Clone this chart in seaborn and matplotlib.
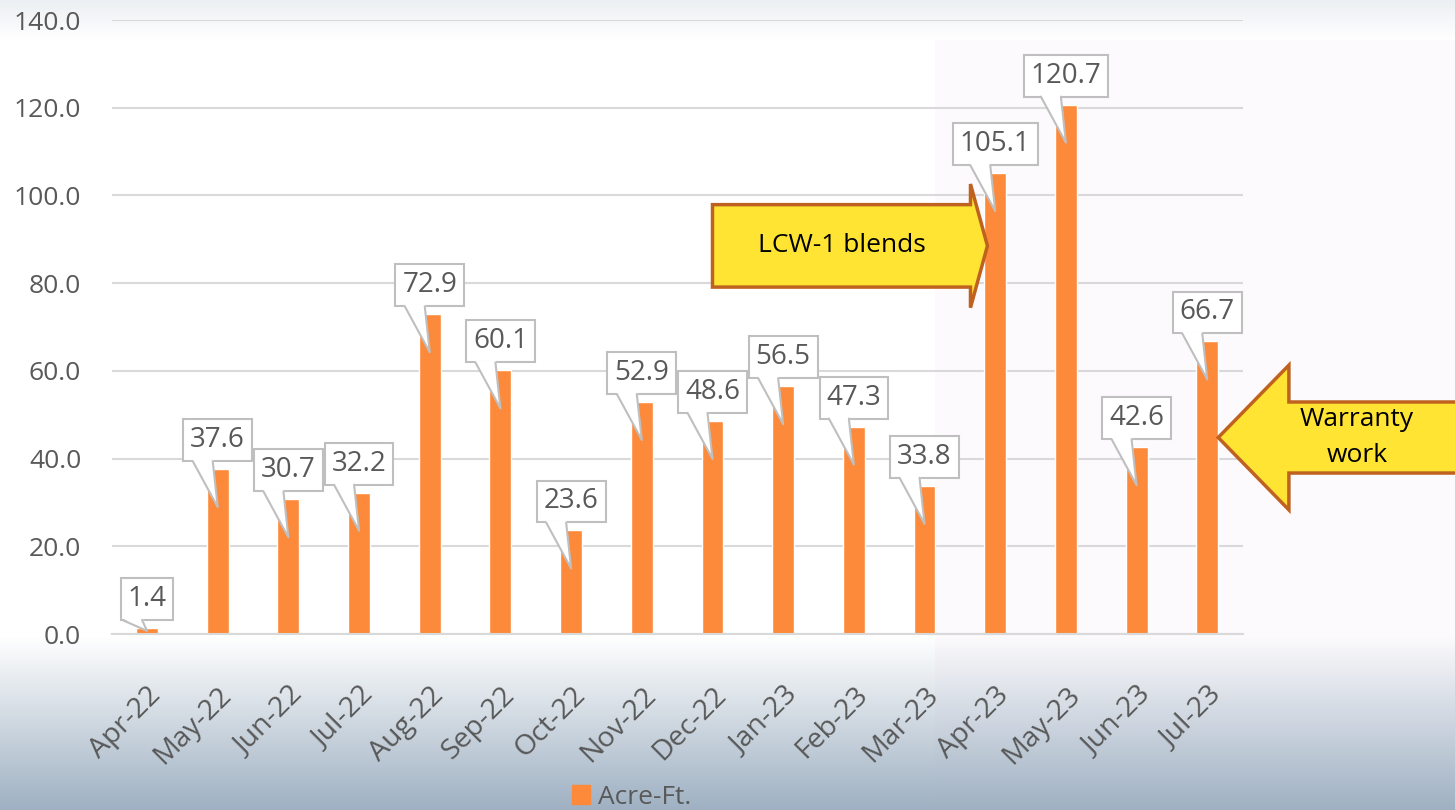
import numpy as np
import pandas as pd
import matplotlib
matplotlib.use('Agg')
import matplotlib.pyplot as plt
import seaborn as sns
from matplotlib import transforms
from matplotlib.patches import FancyArrow, Polygon, Patch
from matplotlib.lines import Line2D
from matplotlib.ticker import StrMethodFormatter

months = ['Apr-22', 'May-22', 'Jun-22', 'Jul-22', 'Aug-22', 'Sep-22', 'Oct-22', 'Nov-22',
          'Dec-22', 'Jan-23', 'Feb-23', 'Mar-23', 'Apr-23', 'May-23', 'Jun-23', 'Jul-23']
acre_ft = [1.4, 37.6, 30.7, 32.2, 72.9, 60.1, 23.6, 52.9,
           48.6, 56.5, 47.3, 33.8, 105.1, 120.7, 42.6, 66.7]
series_name = 'Acre-Ft.'

BAR = '#fd8a3a'
GREY_TXT = '#595959'
GRID = '#d9d9d9'
ARROW_FC = '#ffe433'
ARROW_EC = '#c0621f'

sns.set_theme(style='white')
plt.rcParams['font.family'] = ['Open Sans', 'DejaVu Sans']

W, H = 1455, 810
fig = plt.figure(figsize=(W / 100, H / 100), dpi=100)

# slide-style background: light top band, faint tinted panel, blue-grey fade at the bottom
bg = np.ones((H, W, 3))
bg[40:, 935:, :] = np.array([252, 250, 252]) / 255
rows = np.arange(H)
t_top = np.clip(1 - rows / 40, 0, 1)[:, None, None]
t_bot = np.clip((rows - 636) / (H - 636), 0, 1)[:, None, None]
bg = bg * (1 - t_top) + np.array([236, 239, 243]) / 255 * t_top
bg = bg * (1 - t_bot) + np.array([158, 176, 194]) / 255 * t_bot
bg_ax = fig.add_axes([0, 0, 1, 1], zorder=-10)
bg_ax.imshow(bg, aspect='auto')
bg_ax.axis('off')

ax_box = [111.7 / W, 1 - 634 / H, (1242.6 - 111.7) / W, (634 - 20) / H]
ax = fig.add_axes(ax_box)
ax.set_facecolor('none')

df = pd.DataFrame({'Month': months, series_name: acre_ft})
sns.barplot(data=df, x='Month', y=series_name, color=BAR, saturation=1,
            width=0.31, ax=ax, zorder=2)

ax.set_xlim(-0.5, len(months) - 0.5)
ax.set_ylim(0, 140)
ax.set_yticks(np.arange(0, 141, 20))
ax.yaxis.set_major_formatter(StrMethodFormatter('{x:.1f}'))
ax.set_xlabel('')
ax.set_ylabel('')
ax.yaxis.grid(True, color=GRID, lw=1.5)
ax.set_axisbelow(True)
for s in ['top', 'right', 'left']:
    ax.spines[s].set_visible(False)
ax.spines['bottom'].set_color(GRID)
ax.spines['bottom'].set_linewidth(1.5)
ax.tick_params(axis='y', length=0, labelsize=19, labelcolor=GREY_TXT, pad=22)
ax.tick_params(axis='x', length=0, labelsize=20.5, labelcolor=GREY_TXT, pad=34)
plt.setp(ax.get_xticklabels(), rotation=45, ha='right', rotation_mode='anchor')

# callout data labels
px_per_unit = (634 - 20) / 140
for i, v in enumerate(acre_ft):
    drop = min(38, v * px_per_unit * 0.5)
    ax.annotate(f'{v:.1f}', xy=(i, v), xytext=(0, 15), textcoords='offset pixels',
                ha='center', va='bottom', fontsize=20, color=GREY_TXT, zorder=5,
                bbox=dict(boxstyle='square,pad=0.25', fc='white', ec='#bfbfbf', lw=1.5))
    tr = transforms.Affine2D() + transforms.ScaledTranslation(i, v, ax.transData)
    ax.add_patch(Polygon([(-25.5, 10), (-4.5, 10), (0, -drop)], closed=True,
                         fc='white', ec='none', transform=tr, zorder=6))
    ax.add_line(Line2D([-25, 0, -5], [8, -drop, 8], color='#bfbfbf', lw=1.5,
                       transform=tr, zorder=6))

# annotation arrows
ax.add_patch(FancyArrow(8.0, 88.5, 3.89, 0, width=18.8, head_width=28.2, head_length=0.24,
                        length_includes_head=True, fc=ARROW_FC, ec=ARROW_EC, lw=2.5, zorder=3))
ax.text(9.83, 88.5, 'LCW-1 blends', ha='center', va='center', fontsize=19, color='black', zorder=4)

ax.add_patch(FancyArrow(18.7, 44.8, -(18.7 - 15.155), 0, width=16.2, head_width=33, head_length=1.0,
                        length_includes_head=True, fc=ARROW_FC, ec=ARROW_EC, lw=2.5,
                        zorder=3, clip_on=False))
ax.text(17.12, 44.8, 'Warranty\nwork', ha='center', va='center', fontsize=19, color='black',
        linespacing=1.6, zorder=4, clip_on=False)

fig.legend(handles=[Patch(color=BAR)], labels=[series_name], loc='center left',
           bbox_to_anchor=(572 / W, 1 - 797 / H), frameon=False, fontsize=19,
           handlelength=0.7, handleheight=0.7, handletextpad=0.3, borderpad=0,
           borderaxespad=0, labelcolor=GREY_TXT)

fig.savefig('out.png', dpi=100)
